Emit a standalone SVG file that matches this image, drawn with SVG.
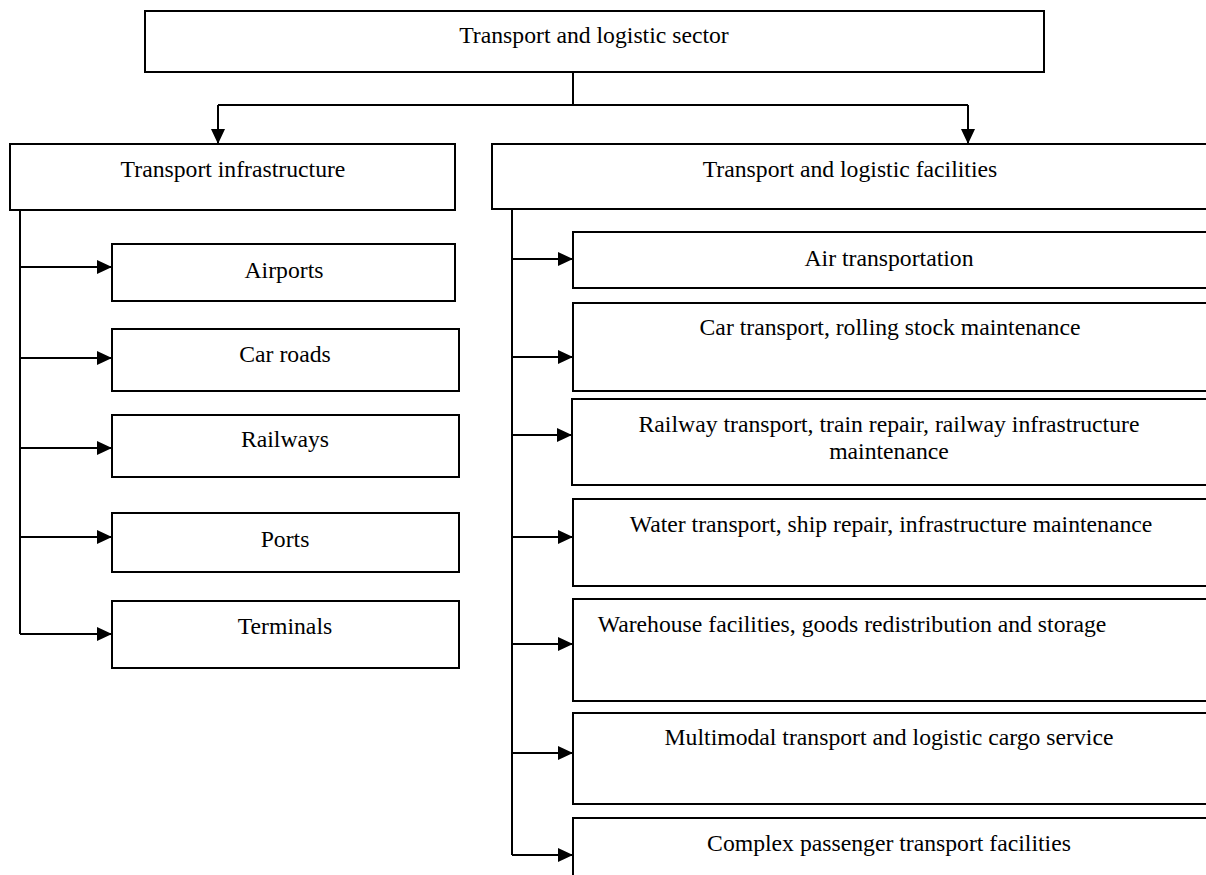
<svg xmlns="http://www.w3.org/2000/svg" width="1206" height="875" viewBox="0 0 1206 875">
<style>
.box{fill:#fff;stroke:#000;stroke-width:2}
.t{font-family:"Liberation Serif","Times New Roman",serif;font-size:23.7px;fill:#000;text-anchor:middle}
.c{fill:none;stroke:#000;stroke-width:2}
</style>
<defs>
<marker id="ah" markerUnits="userSpaceOnUse" markerWidth="15" markerHeight="14" refX="15" refY="7" orient="auto">
<path d="M0,0 L15,7 L0,14 z" fill="#000"/>
</marker>
</defs>
<rect width="1206" height="875" fill="#fff"/>
<g id="connectors">
<path class="c" d="M573,72 V105 M218,105 H968"/>
<path class="c" d="M218,105 V144" marker-end="url(#ah)"/>
<path class="c" d="M968,105 V144" marker-end="url(#ah)"/>
<path class="c" d="M20,210 V634"/>
<path class="c" d="M20,267 H112" marker-end="url(#ah)"/>
<path class="c" d="M20,358 H112" marker-end="url(#ah)"/>
<path class="c" d="M20,448 H112" marker-end="url(#ah)"/>
<path class="c" d="M20,537 H112" marker-end="url(#ah)"/>
<path class="c" d="M20,634 H112" marker-end="url(#ah)"/>
<path class="c" d="M512,209 V855"/>
<path class="c" d="M512,259 H573" marker-end="url(#ah)"/>
<path class="c" d="M512,357 H573" marker-end="url(#ah)"/>
<path class="c" d="M512,435 H572" marker-end="url(#ah)"/>
<path class="c" d="M512,537 H573" marker-end="url(#ah)"/>
<path class="c" d="M512,644 H573" marker-end="url(#ah)"/>
<path class="c" d="M512,753 H573" marker-end="url(#ah)"/>
<path class="c" d="M512,855 H573" marker-end="url(#ah)"/>
</g>
<g id="sector"><rect class="box" x="145" y="11" width="899" height="61"/><text class="t" x="594" y="43">Transport and logistic sector</text></g>
<g id="infrastructure"><rect class="box" x="10" y="144" width="445" height="66"/><text class="t" x="233" y="177">Transport infrastructure</text></g>
<g id="facilities"><rect class="box" x="492" y="144" width="720" height="65"/><text class="t" x="850" y="177">Transport and logistic facilities</text></g>
<g id="airports"><rect class="box" x="112" y="244" width="343" height="57"/><text class="t" x="284" y="278">Airports</text></g>
<g id="carroads"><rect class="box" x="112" y="329" width="347" height="62"/><text class="t" x="285" y="362">Car roads</text></g>
<g id="railways"><rect class="box" x="112" y="415" width="347" height="62"/><text class="t" x="285" y="447">Railways</text></g>
<g id="ports"><rect class="box" x="112" y="513" width="347" height="59"/><text class="t" x="285" y="547">Ports</text></g>
<g id="terminals"><rect class="box" x="112" y="601" width="347" height="67"/><text class="t" x="285" y="634">Terminals</text></g>
<g id="air"><rect class="box" x="573" y="232" width="640" height="56"/><text class="t" x="889" y="266">Air transportation</text></g>
<g id="car"><rect class="box" x="573" y="303" width="640" height="88"/><text class="t" x="890" y="335">Car transport, rolling stock maintenance</text></g>
<g id="rail"><rect class="box" x="572" y="399" width="641" height="86"/><text class="t" x="889" y="432">Railway transport, train repair, railway infrastructure</text><text class="t" x="889" y="459">maintenance</text></g>
<g id="water"><rect class="box" x="573" y="499" width="640" height="87"/><text class="t" x="891" y="532">Water transport, ship repair, infrastructure maintenance</text></g>
<g id="warehouse"><rect class="box" x="573" y="599" width="640" height="102"/><text class="t" x="852" y="632">Warehouse facilities, goods redistribution and storage</text></g>
<g id="multimodal"><rect class="box" x="573" y="713" width="640" height="91"/><text class="t" x="889" y="745">Multimodal transport and logistic cargo service</text></g>
<g id="complex"><rect class="box" x="573" y="818" width="640" height="80"/><text class="t" x="889" y="851">Complex passenger transport facilities</text></g>
</svg>
